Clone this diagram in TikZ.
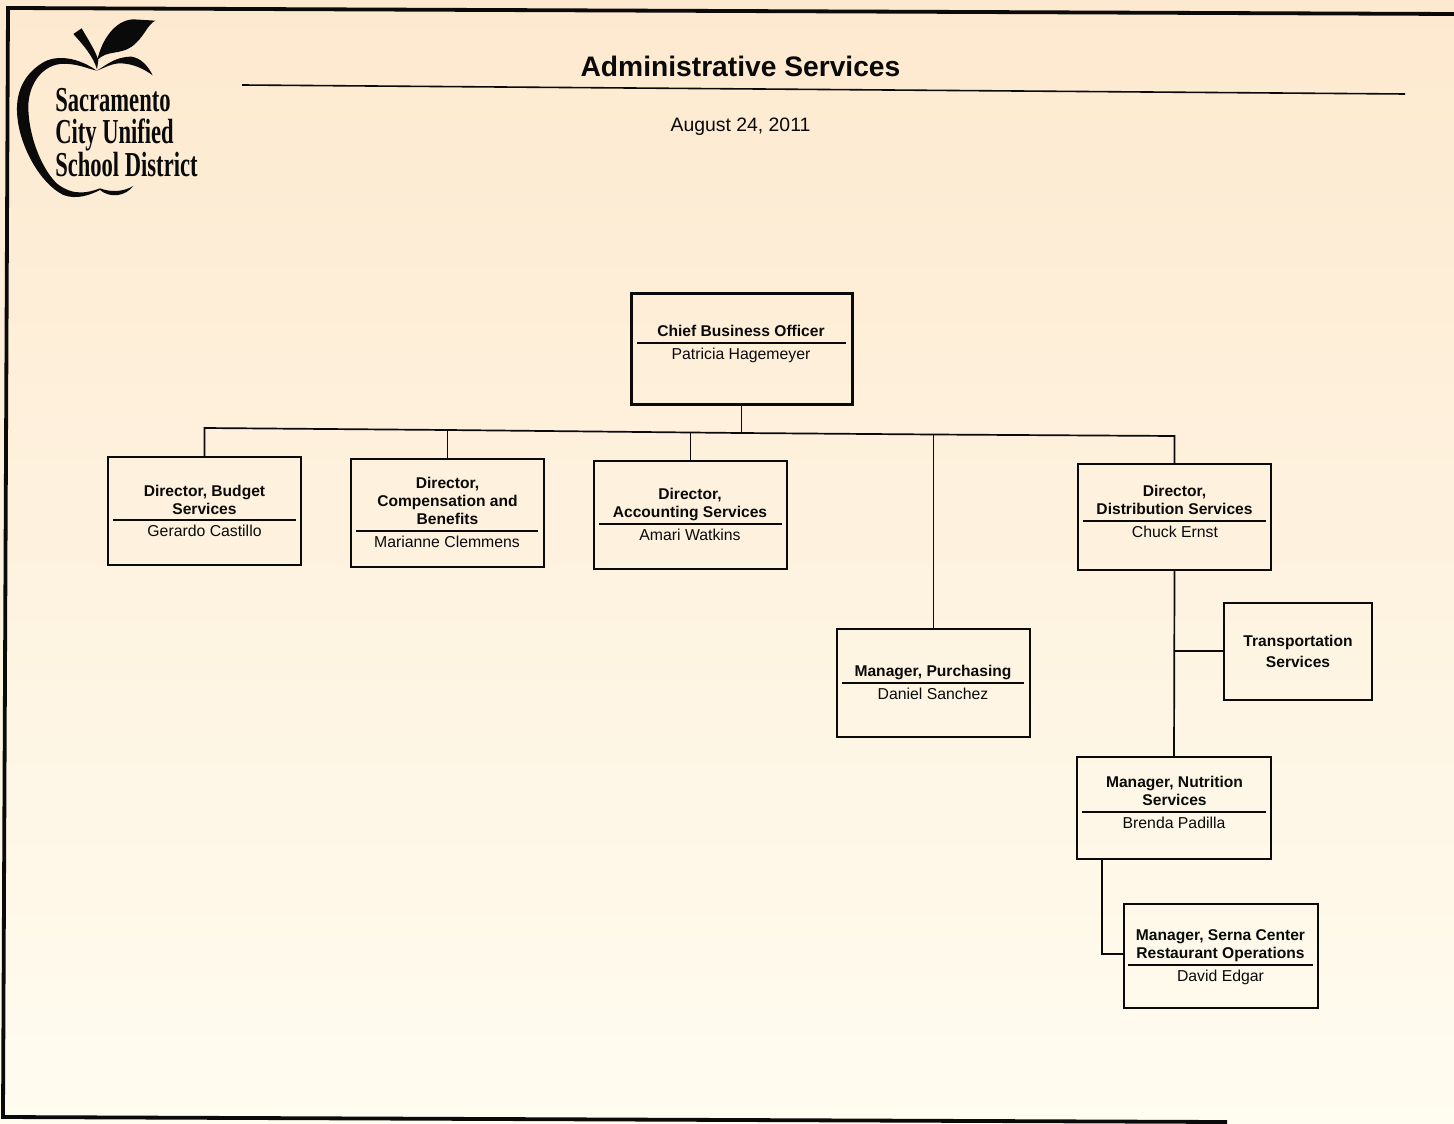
\documentclass[tikz,border=0pt]{standalone}
\usepackage{fontspec}
\setmainfont{Liberation Sans}
\newfontfamily\logofont{Liberation Serif}
\definecolor{ink}{HTML}{0A0A0A}
\definecolor{bgtop}{HTML}{FDE9CF}
\definecolor{bgbot}{HTML}{FFFCF0}
\tikzset{
  orgbox/.style={draw=ink,line width=0.85pt,inner sep=0pt,fill=none},
  headbox/.style={orgbox,line width=1.5pt},
  conn/.style={draw=ink,line width=0.85pt,line join=miter},
  sep/.style={draw=ink,line width=0.85pt},
  roletext/.style={text=ink,font=\fontsize{7.8}{9}\selectfont\bfseries,align=center,inner sep=0pt},
  nametext/.style={text=ink,font=\fontsize{7.9}{9}\selectfont,align=center,inner sep=0pt},
  logotext/.style={text=ink,font=\logofont\bfseries\fontsize{17.5}{15.75}\selectfont,align=left,anchor=north west,inner sep=0pt,xscale=0.645,transform shape},
}
\begin{document}
\begin{tikzpicture}[x=0.5pt,y=-0.5pt]
\useasboundingbox (0,0) rectangle (1454,1123);
\shade[top color=bgtop,bottom color=bgbot] (0,0) rectangle (1454,1123);
% page frame
\draw[ink,line width=1.9pt] (1454,14) -- (8,8) -- (3,1117) -- (1227,1122);
% title
\node[text=ink,font=\fontsize{14.1}{18}\selectfont\bfseries,inner sep=0pt] (title) at (740.5,66.5) {Administrative Services};
\node[text=ink,font=\fontsize{9.7}{12}\selectfont,inner sep=0pt] (date) at (740.5,127) {August 24, 2011};
\draw[ink,line width=0.8pt] (242,85) -- (1405,94);
% logo
\begin{scope}[x=0.16667pt,y=-0.16667pt]
\fill[ink] (290,212) .. controls (240,175) and (170,160) .. (125,190)
  .. controls (70,225) and (45,280) .. (52,350)
  .. controls (60,440) and (120,550) .. (190,585)
  .. controls (230,600) and (270,585) .. (300,570)
  .. controls (330,595) and (375,590) .. (400,558)
  .. controls (370,575) and (335,578) .. (300,565)
  .. controls (265,578) and (220,590) .. (170,550)
  .. controls (120,500) and (85,400) .. (85,320)
  .. controls (85,260) and (120,200) .. (180,192)
  .. controls (225,188) and (260,205) .. (290,212) -- cycle;
\fill[ink] (290,212) .. controls (320,195) and (345,170) .. (395,170)
  .. controls (425,175) and (445,200) .. (458,226)
  .. controls (430,205) and (395,190) .. (360,190)
  .. controls (335,190) and (310,205) .. (290,212) -- cycle;
\fill[ink] (220,102) -- (245,85) .. controls (265,120) and (285,150) .. (295,180)
  -- (291,208) .. controls (280,170) and (250,135) .. (220,102) -- cycle;
\fill[ink] (292,180) .. controls (305,120) and (345,60) .. (400,58)
  -- (466,62) .. controls (440,75) and (435,110) .. (395,140)
  .. controls (360,165) and (320,150) .. (292,180) -- cycle;
\end{scope}
\node[logotext] (logo) at (55,88) {Sacramento\\City Unified\\School District};
% boxes
\node[headbox,minimum width=110.5pt,minimum height=55.5pt] (cbo) at (741.5,348.5) {};
\node[orgbox,minimum width=96.5pt,minimum height=54pt] (budget) at (204.5,511) {};
\node[orgbox,minimum width=96.5pt,minimum height=54pt] (comp) at (447.5,513) {};
\node[orgbox,minimum width=96.5pt,minimum height=54pt] (acct) at (690.5,515) {};
\node[orgbox,minimum width=96.5pt,minimum height=54pt] (purch) at (933.5,683) {};
\node[orgbox,minimum width=96.5pt,minimum height=53pt] (dist) at (1174.5,517) {};
\node[orgbox,minimum width=74pt,minimum height=48.5pt] (transp) at (1298,651.5) {};
\node[orgbox,minimum width=97pt,minimum height=51pt] (nutr) at (1174,808) {};
\node[orgbox,minimum width=97pt,minimum height=52pt] (serna) at (1221,956) {};
% texts
\node[roletext] (cbot) at (741,331) {Chief Business Officer};
\node[nametext] (cbon) at (741,355.5) {Patricia Hagemeyer};
\node[roletext] (budgett) at (204.5,500) {Director, Budget\\Services};
\node[nametext] (budgetn) at (204.5,531) {Gerardo Castillo};
\node[roletext] (compt) at (447.5,501) {Director,\\Compensation and\\Benefits};
\node[nametext] (compn) at (447,542) {Marianne Clemmens};
\node[roletext] (acctt) at (690,504) {Director,\\Accounting Services};
\node[nametext] (acctn) at (690,535) {Amari Watkins};
\node[roletext] (purcht) at (933,672.5) {Manager, Purchasing};
\node[nametext] (purchn) at (933,694) {Daniel Sanchez};
\node[roletext] (distt) at (1174.5,500) {Director,\\Distribution Services};
\node[nametext] (distn) at (1175,532) {Chuck Ernst};
\node[roletext,font=\fontsize{7.8}{10.5}\selectfont\bfseries] (transpt) at (1298,651.5) {Transportation\\Services};
\node[roletext] (nutrt) at (1174.5,791) {Manager, Nutrition\\Services};
\node[nametext] (nutrn) at (1174,823) {Brenda Padilla};
\node[roletext] (sernat) at (1220.5,946) {Manager, Serna Center\\Restaurant Operations};
\node[nametext] (sernan) at (1220.5,977.5) {David Edgar};
% separators
\draw[sep] (637,343) -- (846,343);
\draw[sep] (113,520) -- (296,520);
\draw[sep] (356,531) -- (538,531);
\draw[sep] (599,524) -- (782,524);
\draw[sep] (842,683) -- (1024,683);
\draw[sep] (1083,521) -- (1266,521);
\draw[sep] (1082,812) -- (1266,812);
\draw[sep] (1128,965) -- (1313,965);
% bus junctions
\coordinate (j1) at (204.5,428);
\coordinate (j2) at (447.5,430);
\coordinate (j3) at (690.5,432.5);
\coordinate (j0) at (741.5,433);
\coordinate (j4) at (933.5,434.5);
\coordinate (j5) at (1174.5,436);
\coordinate (k1) at (1174.5,651);
\coordinate (k2) at (1102,954);
% connectors
\draw[conn] (budget.north) -- (j1) -- (j2) -- (j3) -- (j0) -- (j4) -- (j5) -- (dist.north);
\draw[conn] (cbo.south) -- (j0);
\draw[conn] (comp.north) -- (j2);
\draw[conn] (acct.north) -- (j3);
\draw[conn] (purch.north) -- (j4);
\draw[conn] (dist.south) -- (nutr.north);
\draw[conn] (k1) -- (k1 -| transp.west);
\draw[conn] (nutr.south -| k2) -- (k2) -- (k2 -| serna.west);
\end{tikzpicture}
\end{document}
